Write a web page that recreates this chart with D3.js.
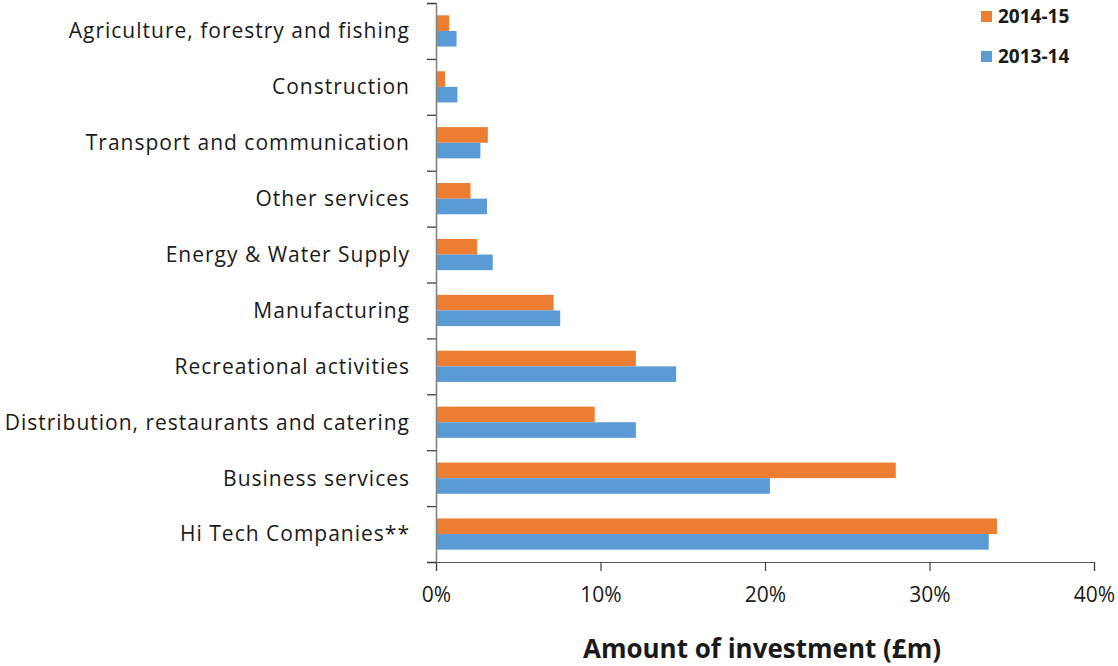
<!DOCTYPE html>
<html>
<head>
<meta charset="utf-8">
<script src="https://cdn.jsdelivr.net/npm/d3@7"></script>
<style>
  html, body { margin: 0; padding: 0; background: #fff; }
  svg { display: block; }
  text { font-family: "Open Sans", "Liberation Sans", Arial, sans-serif; fill: #1a1a1a; }
</style>
</head>
<body>
<svg id="chart" width="1118" height="666"></svg>
<script>
// Sectors, top to bottom
const categories = [
  "Agriculture, forestry and fishing",
  "Construction",
  "Transport and communication",
  "Other services",
  "Energy & Water Supply",
  "Manufacturing",
  "Recreational activities",
  "Distribution, restaurants and catering",
  "Business services",
  "Hi Tech Companies**"
];

// Share of investment (%) by year
const seriesNames = ["2014-15", "2013-14"];
const values2014_15 = [0.8, 0.55, 3.15, 2.1, 2.5, 7.15, 12.15, 9.65, 27.95, 34.1];
const values2013_14 = [1.25, 1.3, 2.7, 3.1, 3.45, 7.55, 14.6, 12.15, 20.3, 33.6];
const seriesColors = ["#ED7D31", "#5B9BD5"];

const xTicks = [0, 10, 20, 30, 40];
const xTitle = "Amount of investment (£m)";

const svg = d3.select("#chart");
const plot = { left: 436, right: 1094, top: 3, bottom: 562 };

const x = d3.scaleLinear().domain([0, 40]).range([plot.left, plot.right]);
const y = d3.scaleBand().domain(categories).range([plot.top, plot.bottom]).paddingInner(0);
const ySub = d3.scaleBand().domain(seriesNames).range([0, y.bandwidth()]).paddingOuter(0.79).paddingInner(0);

const rows = categories.map((c, i) => ({
  cat: c,
  vals: [
    { key: seriesNames[0], v: values2014_15[i], color: seriesColors[0] },
    { key: seriesNames[1], v: values2013_14[i], color: seriesColors[1] }
  ]
}));

// Bars
const g = svg.append("g");
g.selectAll("g.row").data(rows).join("g")
  .attr("class", "row")
  .attr("transform", d => `translate(0,${y(d.cat)})`)
  .selectAll("rect").data(d => d.vals).join("rect")
  .attr("x", x(0))
  .attr("y", d => ySub(d.key))
  .attr("width", d => x(d.v) - x(0))
  .attr("height", ySub.bandwidth())
  .attr("fill", d => d.color);

// Category axis: ticks at band boundaries
const yEdges = d3.scaleLinear().domain([0, categories.length]).range([plot.top, plot.bottom]);
const yAxis = svg.append("g")
  .attr("transform", `translate(${plot.left},0)`)
  .call(d3.axisLeft(yEdges).ticks(categories.length).tickSize(9).tickFormat(""));
yAxis.select(".domain").attr("stroke", "#7f7f7f").attr("stroke-width", 1.5);
yAxis.selectAll(".tick line").attr("stroke", "#404040").attr("stroke-width", 1.3);

// Category labels
svg.append("g").selectAll("text").data(categories).join("text")
  .attr("x", plot.left - 26)
  .attr("y", d => y(d) + y.bandwidth() / 2)
  .attr("dy", "0.35em")
  .attr("text-anchor", "end")
  .style("font-size", "21px")
  .style("letter-spacing", "1px")
  .text(d => d);

// Value axis
const xAxis = svg.append("g")
  .attr("transform", `translate(0,${plot.bottom})`)
  .call(d3.axisBottom(x).tickValues(xTicks).tickSize(9).tickPadding(16).tickFormat(d => d + "%"));
xAxis.select(".domain").attr("stroke", "#595959").attr("stroke-width", 1.2);
xAxis.selectAll(".tick text")
  .style("font-size", "21px")
  .style("font-family", "'Open Sans', 'Liberation Sans', Arial, sans-serif")
  .attr("fill", "#1a1a1a");
xAxis.selectAll(".tick line").attr("stroke", "#404040").attr("stroke-width", 1.2);

// Axis title
svg.append("text")
  .attr("x", (x(0) + x(40)) / 2 - 3)
  .attr("y", 658)
  .attr("text-anchor", "middle")
  .style("font-size", "26px")
  .style("font-weight", "bold")
  .text(xTitle);

// Legend
const legend = svg.append("g").selectAll("g").data(seriesNames).join("g")
  .attr("transform", (d, i) => `translate(981,${11 + i * 40})`);
legend.append("rect")
  .attr("width", 11).attr("height", 11)
  .attr("fill", (d, i) => seriesColors[i]);
legend.append("text")
  .attr("x", 17).attr("y", 5.5).attr("dy", "0.36em")
  .style("font-size", "19px").style("font-weight", "bold")
  .text(d => d);
</script>
</body>
</html>
